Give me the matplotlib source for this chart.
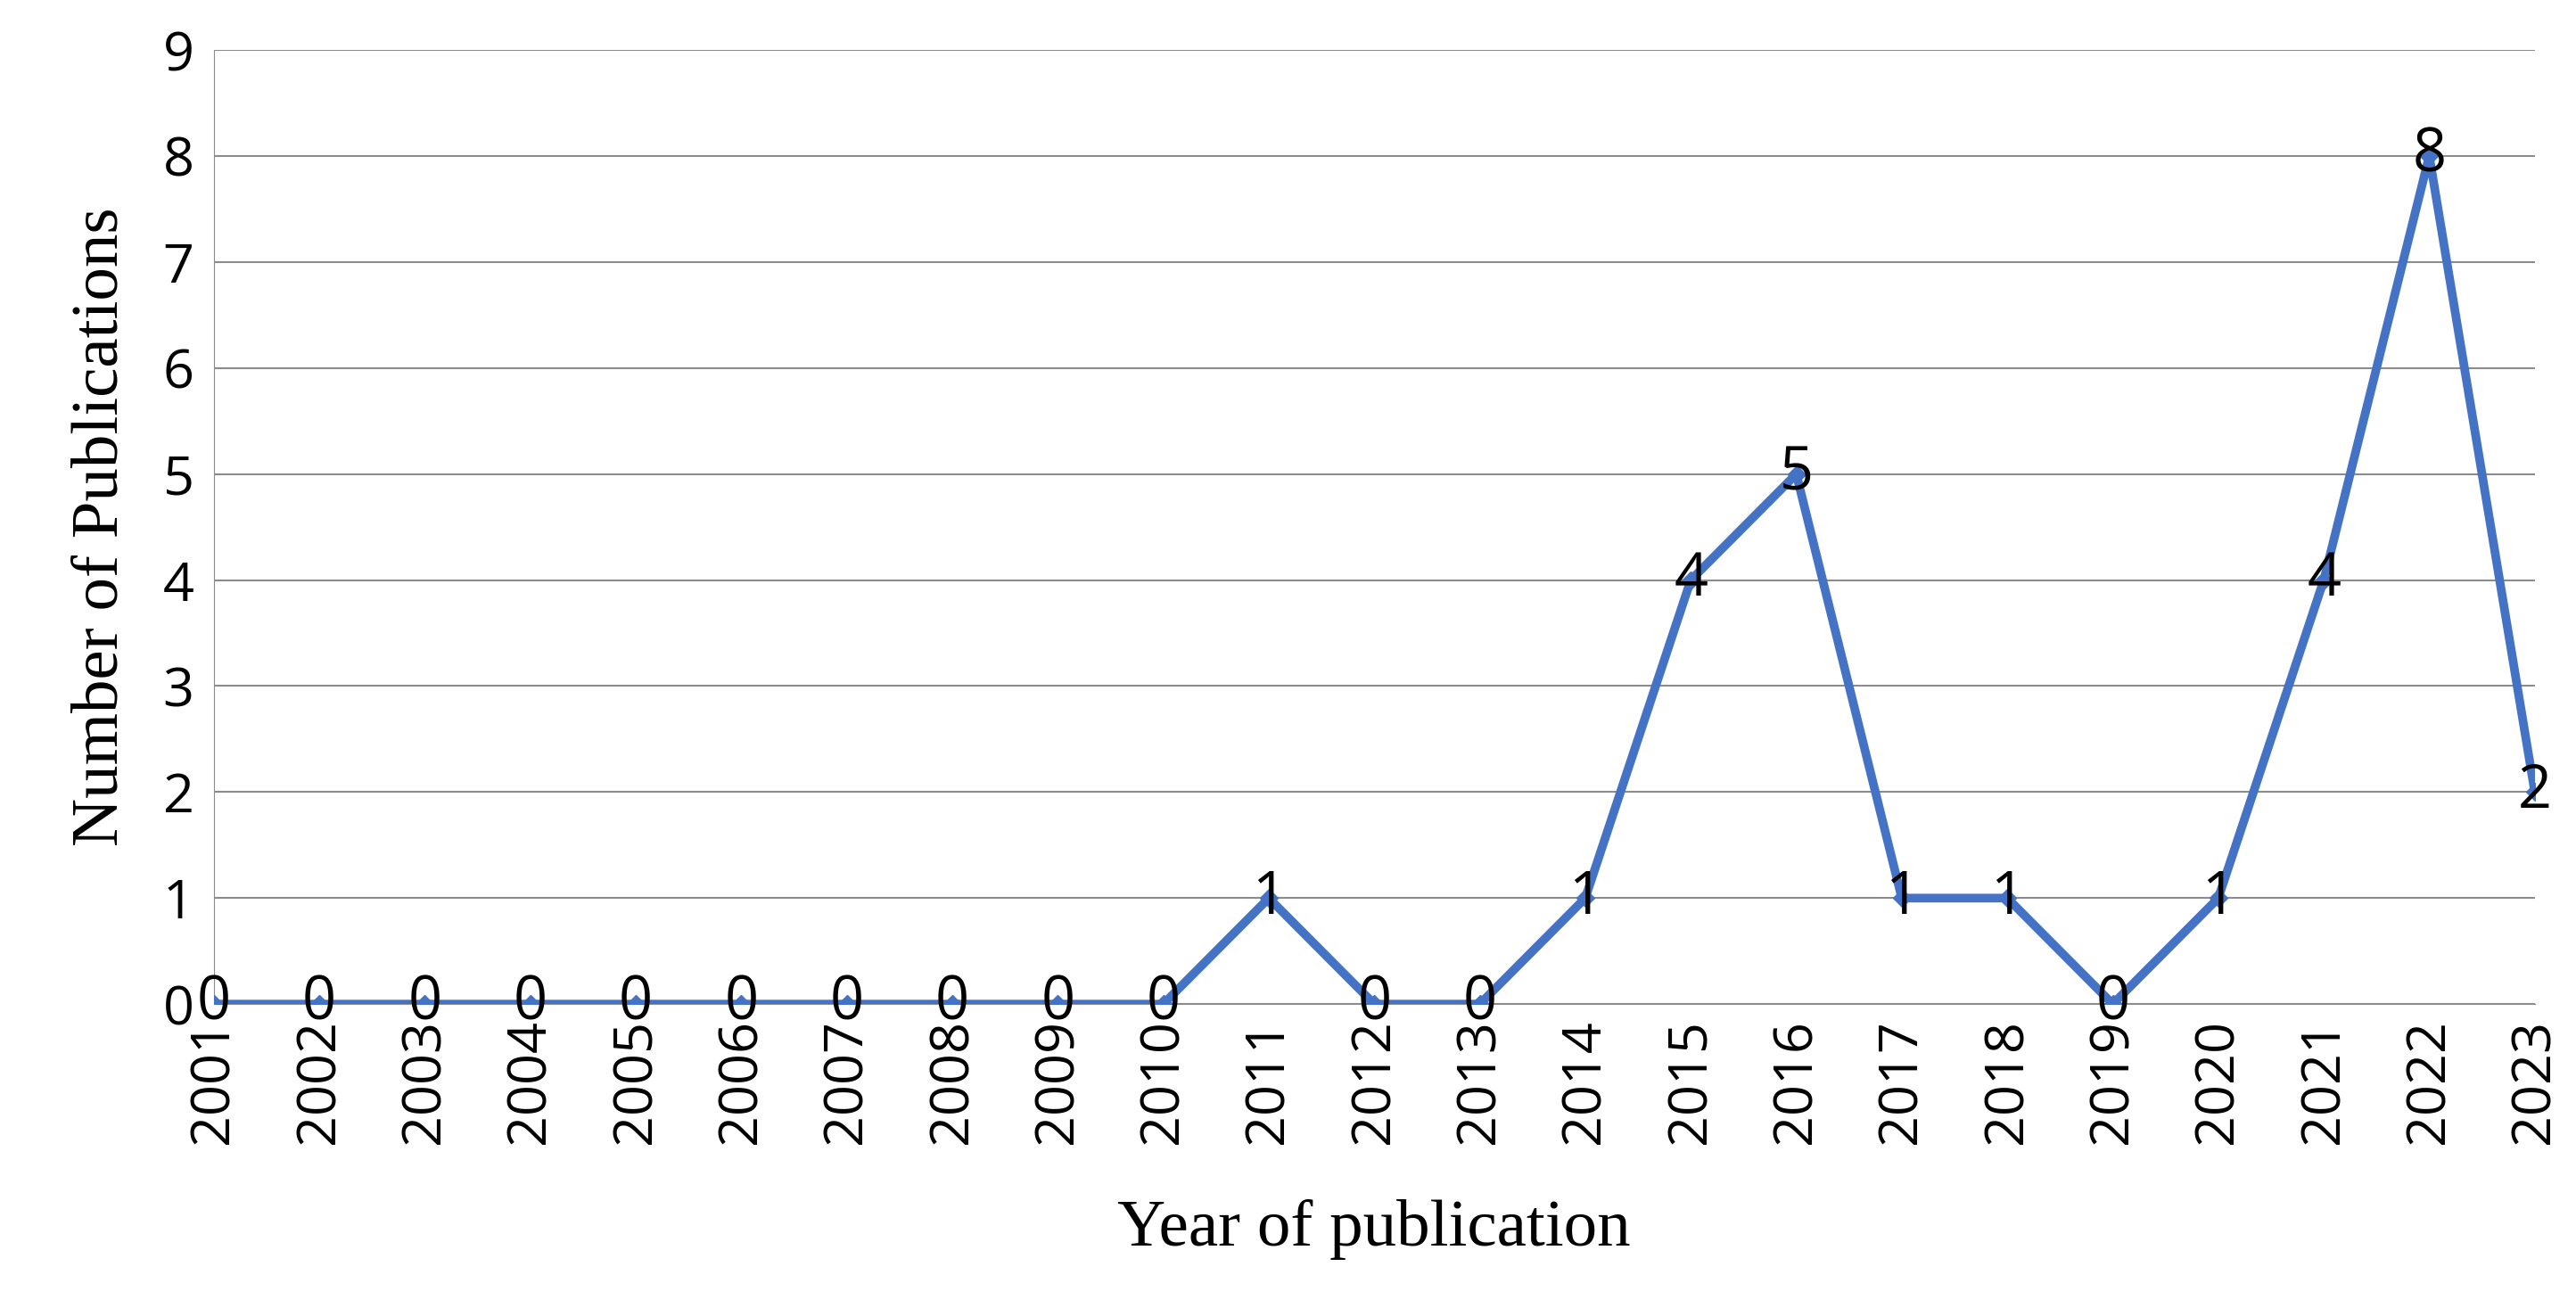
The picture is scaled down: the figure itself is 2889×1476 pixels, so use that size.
import matplotlib
matplotlib.use("Agg")
import matplotlib.pyplot as plt

years = [str(y) for y in range(2001, 2024)]
counts = [0,0,0,0,0,0,0,0,0,0,1,0,0,1,4,5,1,1,0,1,4,8,2]

fig = plt.figure(figsize=(28.89, 14.76), dpi=100)
ax = fig.add_axes([0.083, 0.237, 0.901, 0.725])
x = list(range(len(years)))
ax.plot(x, counts, color="#4472C4", lw=7, marker="D", ms=10, zorder=3)
for xi, c in zip(x, counts):
    ax.text(xi, c, str(c), ha="center", va="center", fontsize=48, family="Open Sans", zorder=4)
ax.set_xlim(0, len(years)-1)
ax.set_ylim(0, 9)
ax.set_yticks(range(10))
ax.set_xticks(x)
ax.set_xticklabels(years, rotation=90, fontsize=44, family="Open Sans")
ax.tick_params(axis="y", labelsize=44, length=0, pad=16)
for l in ax.get_yticklabels():
    l.set_family("Open Sans")
ax.tick_params(axis="x", length=0, pad=12)
ax.grid(axis="y", color="#8c8c8c", lw=1.5)
ax.set_axisbelow(True)
for s in ["top", "right"]:
    ax.spines[s].set_visible(False)
ax.spines["left"].set_color("#8c8c8c")
ax.spines["bottom"].set_color("#8c8c8c")
ax.set_xlabel("Year of publication", fontsize=54, family="Liberation Serif", labelpad=45)
ax.set_ylabel("Number of Publications", fontsize=54, family="Liberation Serif", labelpad=25)
fig.savefig("out.png", dpi=100)
